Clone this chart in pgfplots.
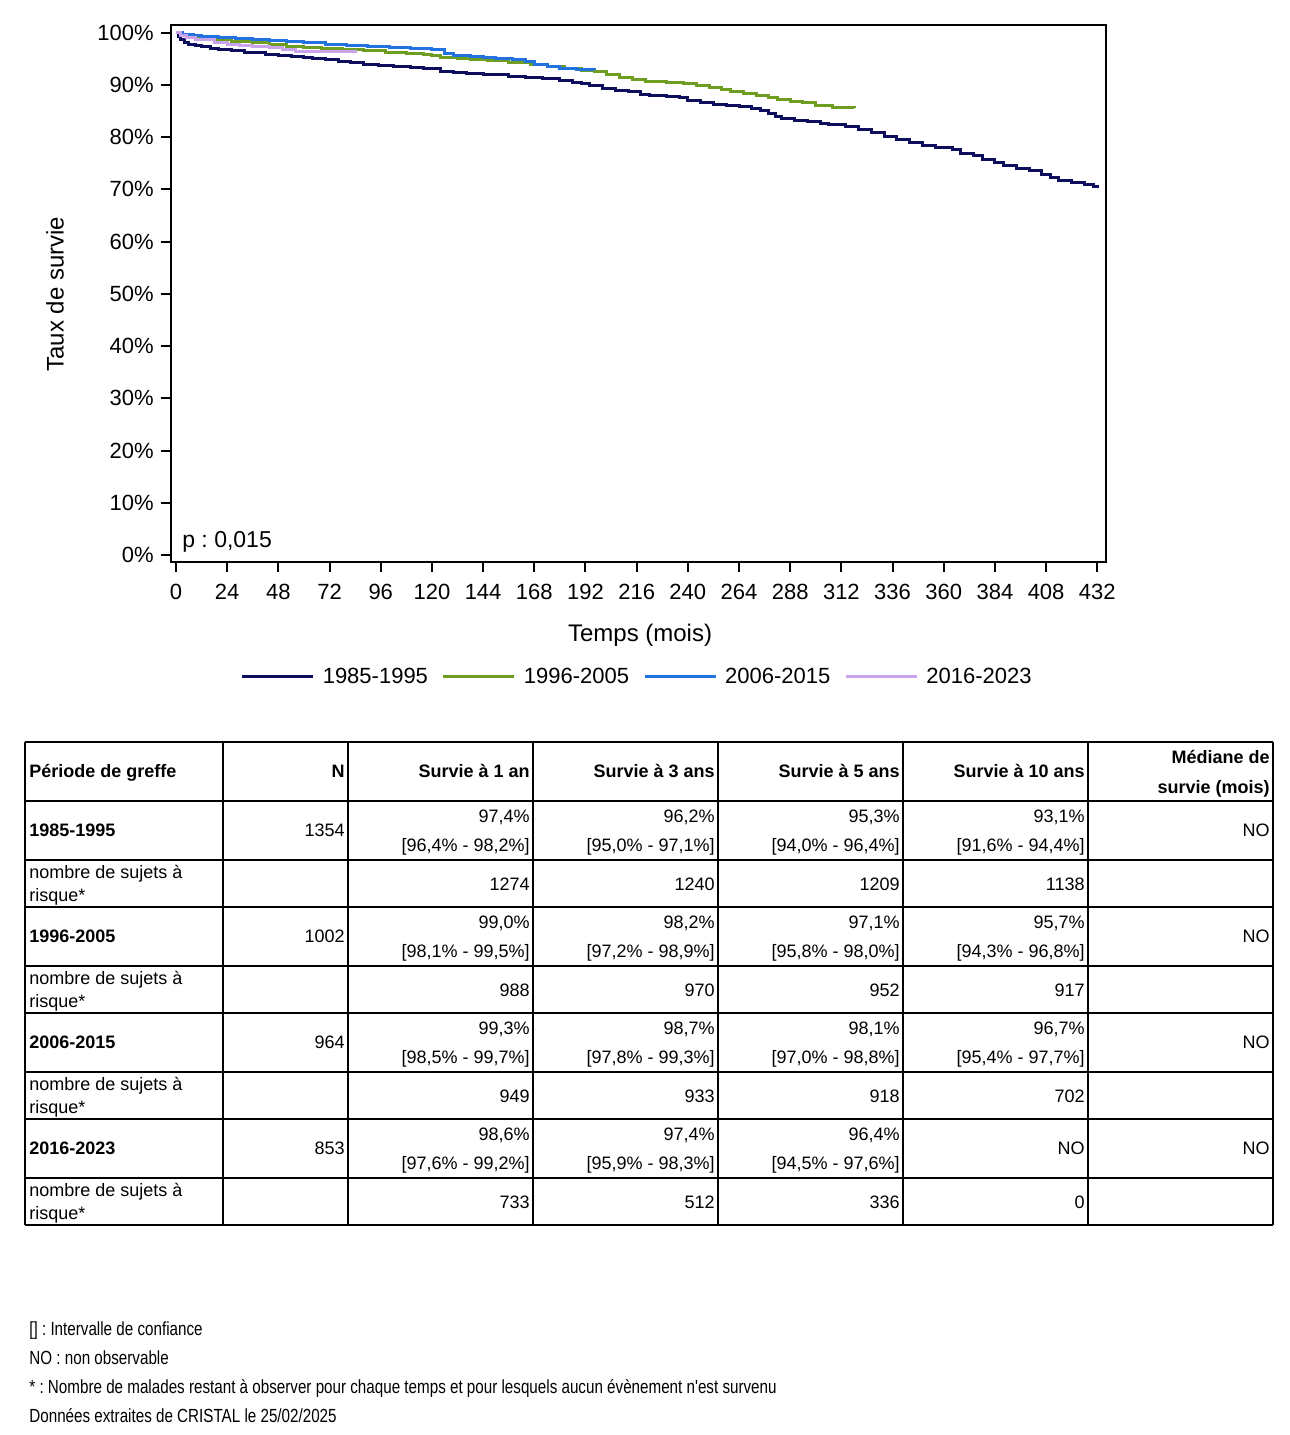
\documentclass[border=0pt]{standalone}
\usepackage{pgfplots}
\pgfplotsset{compat=1.18}
\usepackage{fontspec}
\setmainfont{Liberation Sans}
\newfontfamily\narrowfont[FakeStretch=0.8]{Liberation Sans}
\frenchspacing

\definecolor{navy}{HTML}{0E0E5E}
\definecolor{grn}{HTML}{6E9D22}
\definecolor{blu}{HTML}{2272E0}
\definecolor{lav}{HTML}{C9A4EC}

% table cells, coordinates in pixels of the reference (y downwards)
\newcommand\rt[3]{\node[anchor=base east,inner sep=0pt] at ([yshift=-3pt]#1,#2) {#3};}
\newcommand\lt[3]{\node[anchor=base west,inner sep=0pt] at ([yshift=-3pt]#1,#2) {#3};}

\begin{document}
\begin{tikzpicture}
\begin{scope}[x=0.5pt,y=-0.5pt]
\useasboundingbox (0,0) rectangle (1290,1435);
\end{scope}

\begin{axis}[
  at={(85.35pt,-280.85pt)}, anchor=south west,
  scale only axis, width=467.5pt, height=268.35pt,
  xmin=-2.49, xmax=435.95, ymin=-1.28, ymax=101.47,
  xtick={0,24,...,432}, ytick={0,10,...,100},
  yticklabel={\pgfmathprintnumber{\tick}\%},
  /pgf/number format/assume math mode=true,
  xtick pos=bottom, ytick pos=left,
  tick align=outside, major tick length=5pt,
  major tick style={black, line width=1pt},
  axis line style={line width=1pt},
  tick label style={font=\fontsize{11}{13}\selectfont},
  xticklabel style={text height=8pt, text depth=0pt, yshift=-2.5pt},
  label style={font=\fontsize{12}{14}\selectfont},
  xlabel={Temps (mois)}, ylabel={Taux de survie},
  xlabel style={at={(axis description cs:0.502,-0.1365)}, anchor=center},
  ylabel style={at={(axis description cs:-0.1237,0.4988)}, anchor=center},
  legend columns=4,
  legend style={at={(0.5,-0.2148)}, anchor=center, draw=none,
    font=\fontsize{11}{13}\selectfont,
    /tikz/every even column/.append style={column sep=5pt}},
  legend image code/.code={\draw[#1] (0pt,0pt) -- (35.5pt,0pt); \path (37.5pt,0pt);},
  every axis plot/.append style={const plot, line width=1.5pt, no markers},
]
\addplot[color=navy] coordinates {
  (0,100) (1,99.2) (2,98.7) (4,98.2) (6,97.8) (9,97.6) (12,97.4) (16,97.0)
  (20,96.8) (26,96.5) (32,96.3) (36,96.2) (42,95.9) (48,95.6) (54,95.4)
  (60,95.3) (64,95.0) (70,94.8) (76,94.5) (82,94.2) (88,94.0) (95,93.8)
  (102,93.6) (110,93.4) (116,93.2) (120,93.1) (124,92.6) (130,92.3)
  (136,92.1) (144,92.0) (150,91.9) (156,91.7) (164,91.4) (172,91.2)
  (180,90.9) (186,90.5) (190,90.2) (194,89.8) (200,89.4) (206,89.0)
  (212,88.8) (218,88.2) (222,87.9) (230,87.7) (236,87.5) (240,87.0)
  (246,86.6) (252,86.3) (258,86.1) (264,85.8) (270,85.4) (274,85.1)
  (278,84.5) (281,84.0) (284,83.5) (290,83.2) (296,83.0) (302,82.7)
  (306,82.4) (314,82.0) (320,81.5) (326,80.8) (332,80.1) (338,79.6)
  (344,79.0) (350,78.4) (356,78.1) (364,77.6) (368,76.9) (374,76.5)
  (378,75.7) (384,75.2) (388,74.6) (394,74.0) (400,73.6) (406,72.9)
  (410,72.3) (414,71.7) (420,71.3) (426,71.0) (430,70.5) (432,70.3)
};
\addlegendentry{1985-1995}
\addplot[color=grn] coordinates {
  (0,100) (2,99.6) (5,99.3) (9,99.1) (12,99.0) (18,98.7) (26,98.4)
  (36,98.2) (44,97.8) (52,97.4) (60,97.1) (68,96.9) (78,96.7) (88,96.5)
  (98,96.3) (108,96.1) (116,95.9) (120,95.7) (124,95.3) (132,95.1)
  (138,94.8) (146,94.6) (156,94.2) (166,93.9) (174,93.5) (182,93.1)
  (190,92.8) (196,92.5) (202,92.0) (208,91.4) (214,91.0) (220,90.6)
  (230,90.5) (238,90.2) (244,89.9) (250,89.6) (256,89.2) (260,88.7)
  (266,88.4) (272,88.0) (278,87.5) (282,87.2) (288,86.9) (294,86.6)
  (300,86.1) (308,85.7) (318,85.6)
};
\addlegendentry{1996-2005}
\addplot[color=blu] coordinates {
  (0,100) (3,99.7) (8,99.5) (12,99.3) (20,99.1) (28,98.9) (36,98.7)
  (44,98.5) (52,98.3) (60,98.1) (70,97.8) (80,97.6) (90,97.4) (100,97.1)
  (110,96.9) (120,96.7) (126,96.1) (130,95.7) (138,95.5) (144,95.3)
  (150,95.0) (158,94.8) (164,94.5) (168,94.0) (174,93.6) (180,93.1)
  (188,93.0) (196,92.9)
};
\addlegendentry{2006-2015}
\addplot[color=lav] coordinates {
  (0,100) (2,99.5) (5,99.0) (9,98.7) (12,98.6) (18,98.1) (24,97.8)
  (30,97.6) (36,97.4) (44,97.1) (50,96.8) (56,96.4) (72,96.4) (85,96.4)
};
\addlegendentry{2016-2023}
\node[anchor=west, inner sep=0pt, font=\fontsize{11.5}{13}\selectfont]
  at (rel axis cs:0.012,0.0367) {p : 0,015};
\end{axis}

\begin{scope}[x=0.5pt,y=-0.5pt, every node/.style={font=\fontsize{9}{11}\selectfont}]
\foreach \y in {742,801,860,907,966,1013,1072,1119,1178,1225}
  \draw[line width=1pt] (25,\y) -- (1273,\y);
\foreach \x in {25,223,348,533,718,903,1088,1273}
  \draw[line width=1pt] (\x,742) -- (\x,1225);
% header
\lt{29}{771}{\bfseries Période de greffe}
\rt{345}{771}{\bfseries N}
\rt{530}{771}{\bfseries Survie à 1 an}
\rt{715}{771}{\bfseries Survie à 3 ans}
\rt{900}{771}{\bfseries Survie à 5 ans}
\rt{1085}{771}{\bfseries Survie à 10 ans}
\rt{1270}{757}{\bfseries Médiane de}
\rt{1270}{787}{\bfseries survie (mois)}
% 1985-1995
\lt{29}{830}{\bfseries 1985-1995}
\rt{345}{830}{1354}
\rt{530}{816}{97,4\%}  \rt{530}{845}{[96,4\% - 98,2\%]}
\rt{715}{816}{96,2\%}  \rt{715}{845}{[95,0\% - 97,1\%]}
\rt{900}{816}{95,3\%}  \rt{900}{845}{[94,0\% - 96,4\%]}
\rt{1085}{816}{93,1\%} \rt{1085}{845}{[91,6\% - 94,4\%]}
\rt{1270}{830}{NO}
\lt{29}{872}{nombre de sujets à} \lt{29}{895}{risque*}
\rt{530}{884}{1274} \rt{715}{884}{1240} \rt{900}{884}{1209} \rt{1085}{884}{1138}
% 1996-2005
\lt{29}{936}{\bfseries 1996-2005}
\rt{345}{936}{1002}
\rt{530}{922}{99,0\%}  \rt{530}{951}{[98,1\% - 99,5\%]}
\rt{715}{922}{98,2\%}  \rt{715}{951}{[97,2\% - 98,9\%]}
\rt{900}{922}{97,1\%}  \rt{900}{951}{[95,8\% - 98,0\%]}
\rt{1085}{922}{95,7\%} \rt{1085}{951}{[94,3\% - 96,8\%]}
\rt{1270}{936}{NO}
\lt{29}{978}{nombre de sujets à} \lt{29}{1001}{risque*}
\rt{530}{990}{988} \rt{715}{990}{970} \rt{900}{990}{952} \rt{1085}{990}{917}
% 2006-2015
\lt{29}{1042}{\bfseries 2006-2015}
\rt{345}{1042}{964}
\rt{530}{1028}{99,3\%}  \rt{530}{1057}{[98,5\% - 99,7\%]}
\rt{715}{1028}{98,7\%}  \rt{715}{1057}{[97,8\% - 99,3\%]}
\rt{900}{1028}{98,1\%}  \rt{900}{1057}{[97,0\% - 98,8\%]}
\rt{1085}{1028}{96,7\%} \rt{1085}{1057}{[95,4\% - 97,7\%]}
\rt{1270}{1042}{NO}
\lt{29}{1084}{nombre de sujets à} \lt{29}{1107}{risque*}
\rt{530}{1096}{949} \rt{715}{1096}{933} \rt{900}{1096}{918} \rt{1085}{1096}{702}
% 2016-2023
\lt{29}{1148}{\bfseries 2016-2023}
\rt{345}{1148}{853}
\rt{530}{1134}{98,6\%}  \rt{530}{1163}{[97,6\% - 99,2\%]}
\rt{715}{1134}{97,4\%}  \rt{715}{1163}{[95,9\% - 98,3\%]}
\rt{900}{1134}{96,4\%}  \rt{900}{1163}{[94,5\% - 97,6\%]}
\rt{1085}{1148}{NO}
\rt{1270}{1148}{NO}
\lt{29}{1190}{nombre de sujets à} \lt{29}{1213}{risque*}
\rt{530}{1202}{733} \rt{715}{1202}{512} \rt{900}{1202}{336} \rt{1085}{1202}{0}
\end{scope}

\begin{scope}[x=0.5pt,y=-0.5pt, every node/.style={font=\narrowfont\fontsize{9.5}{11}\selectfont}]
\lt{29}{1329}{[] : Intervalle de confiance}
\lt{29}{1358}{NO : non observable}
\lt{29}{1387}{* : Nombre de malades restant à observer pour chaque temps et pour lesquels aucun évènement n'est survenu}
\lt{29}{1416}{Données extraites de CRISTAL le 25/02/2025}
\end{scope}
\end{tikzpicture}
\end{document}
